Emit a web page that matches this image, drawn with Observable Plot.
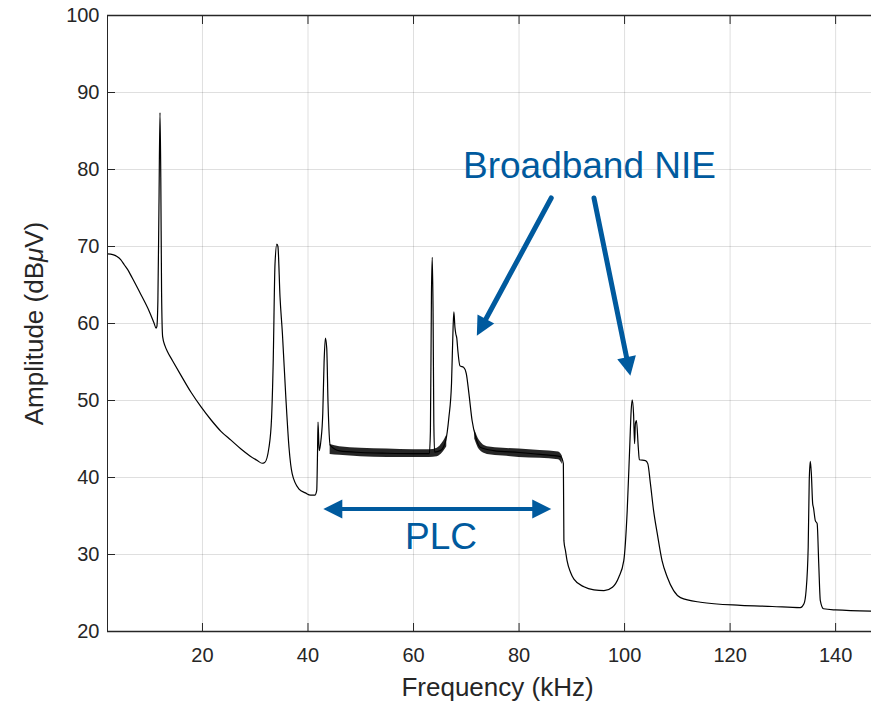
<!DOCTYPE html>
<html><head><meta charset="utf-8">
<script src="https://cdn.jsdelivr.net/npm/d3@7"></script>
<script src="https://cdn.jsdelivr.net/npm/@observablehq/plot@0.6"></script>
<style>body{margin:0;background:#fff;} #chart svg{display:block;}</style>
</head><body><div id="chart"></div>
<script>
// ---- data ----
const freq = [2.0,3.0,3.8,4.5,5.2,6.0,6.7,8.3,9.9,10.8,11.2,11.35,11.55,11.75,11.95,12.1,12.25,12.45,12.9,13.4,14.3,15.9,17.8,19.7,21.6,23.5,25.4,27.3,29.0,30.4,31.3,31.8,32.6,33.1,33.4,33.75,34.1,34.3,34.7,35.15,35.8,36.4,37.0,38.3,39.5,40.5,41.3,41.65,41.8,41.9,42.05,42.15,42.45,42.8,43.05,43.3,43.55,43.8,44.2,46,50,55,60,63.0,63.2,63.4,63.55,63.7,63.85,64.0,65.1,66.1,66.7,67.2,67.5,67.65,67.85,68.0,68.2,68.4,68.8,69.5,70.0,70.5,71.1,71.8,72.7,75.2,80,84,87.9,88.4,88.5,88.8,89.1,89.75,90.4,92.3,94.2,96.1,97.7,98.9,99.85,100.5,101.0,101.25,101.45,101.7,101.9,102.05,102.25,102.6,102.8,103.95,104.4,104.9,105.5,106.2,107.1,108.1,109.3,110.6,114.4,122.0,128,133.3,134.0,134.4,134.8,135.0,135.2,135.4,135.65,135.8,136.15,136.5,136.8,137.1,137.7,140,146.8];
const amp = [69.05,68.95,68.7,68.3,67.6,66.8,65.9,63.8,61.6,60.1,59.4,59.6,63,75,87.4,79,64,58.3,57.1,56.3,55.2,53.3,51.1,49.2,47.5,46.0,44.85,43.7,42.8,42.2,41.85,41.95,43.9,47.8,54.8,67.75,70.3,70.0,63.4,58.7,50.4,43.9,40.5,38.5,38.0,37.7,37.7,38.3,43,47.2,44.5,43.5,44.8,48.3,55,58.1,56.8,49.6,44.2,43.45,43.25,43.15,43.1,43.1,46,64,68.6,62,47,43.3,43.5,44.8,47.8,52.2,59.5,61.5,59.5,58.7,58.1,56.5,54.5,54.3,53.5,50.9,47.4,45.2,43.9,43.5,43.25,43.0,42.7,41.8,31.8,30.5,29.2,27.7,26.8,25.8,25.4,25.3,25.75,27.05,29.2,35.7,44.4,48.7,50.1,48.3,44.4,47.0,47.4,43.9,42.3,42.2,41.8,39.2,35.7,32.7,29.2,27.05,25.3,24.4,23.8,23.4,23.25,23.1,23.6,25.3,30.9,39.6,42.1,40.5,36.6,36.1,34.4,34.0,28.8,24.0,22.95,22.8,22.65];

// PLC ripple envelope (min / max of the oscillating band)
const bandAFreq = [44.2,46,50,55,60,63,64.5,65.5,66.3];
const bandALo   = [43.0,42.9,42.7,42.6,42.6,42.6,42.7,43.2,44.0];
const bandAHi   = [44.3,44.0,43.8,43.7,43.6,43.6,43.8,44.5,45.5];
const bandBFreq = [71.6,72.5,74,77,80,84,87.5,88.2];
const bandBLo   = [45.0,43.6,43.0,42.8,42.6,42.5,42.3,41.7];
const bandBHi   = [46.2,44.8,44.0,43.8,43.7,43.5,43.3,42.8];

const xTicks = [20,40,60,80,100,120,140];
const yTicks = [20,30,40,50,60,70,80,90,100];
const xDomain = [2.0, 146.8];
const yDomain = [20, 100];

// annotations
const nieLabel = "Broadband NIE";
const nieLabelPos = [93.35, 80.4];
const nieArrows = [ {x1: 86.1, y1: 76.3, x2: 72.0, y2: 58.4},
                    {x1: 94.2, y1: 76.3, x2: 101.1, y2: 53.2} ];
const plcLabel = "PLC";
const plcLabelPos = [65.2, 32.3];
const plcArrow = {x1: 42.9, x2: 86.1, y: 35.9};

const xLabel = "Frequency (kHz)";
const yLabel = "Amplitude (dBμV)";

// ---- layout ----
const W = 871, H = 705, mL = 107, mR = 0, mT = 15, mB = 74;
const blue = "#005a9e", ink = "#262626";

const data = freq.map((f, i) => ({f, a: amp[i]}));
const bandA = bandAFreq.map((f, i) => ({f, lo: bandALo[i], hi: bandAHi[i]}));
const bandB = bandBFreq.map((f, i) => ({f, lo: bandBLo[i], hi: bandBHi[i]}));

const sx = Plot.scale({x: {domain: xDomain, range: [mL, W - mR]}});
const sy = Plot.scale({y: {domain: yDomain, range: [H - mB, mT]}});
const angle = (x1, y1, x2, y2) => {
  const dx = sx.apply(x2) - sx.apply(x1), dy = sy.apply(y2) - sy.apply(y1);
  return Math.atan2(dx, -dy) * 180 / Math.PI;
};
const heads = [
  ...nieArrows.map(d => ({x: d.x2, y: d.y2, rot: angle(d.x1, d.y1, d.x2, d.y2)})),
  {x: plcArrow.x1, y: plcArrow.y, rot: -90},
  {x: plcArrow.x2, y: plcArrow.y, rot: 90}
];
const headSym = {draw(ctx) { ctx.moveTo(0, 0); ctx.lineTo(-9.5, 19); ctx.lineTo(9.5, 19); ctx.closePath(); }};

const chart = Plot.plot({
  width: W, height: H,
  marginLeft: mL, marginRight: mR, marginTop: mT, marginBottom: mB,
  x: {domain: xDomain},
  y: {domain: yDomain},
  style: {fontFamily: "'Liberation Sans', Arial, sans-serif", fontSize: "20px", color: ink, background: "#fff"},
  marks: [
    Plot.gridX(xTicks, {stroke: ink, strokeOpacity: 0.15, strokeWidth: 1}),
    Plot.gridY(yTicks, {stroke: ink, strokeOpacity: 0.15, strokeWidth: 1}),
    Plot.areaY(bandA, {x: "f", y1: "lo", y2: "hi", fill: "#000", fillOpacity: 0.85, curve: "monotone-x"}),
    Plot.areaY(bandB, {x: "f", y1: "lo", y2: "hi", fill: "#000", fillOpacity: 0.85, curve: "monotone-x"}),
    Plot.line(data, {x: "f", y: "a", stroke: "#000", strokeWidth: 1.2, curve: "monotone-x"}),
    // box lines
    Plot.ruleY([yDomain[0], yDomain[1]], {stroke: ink, strokeWidth: 1.3}),
    Plot.ruleX([xDomain[0]], {stroke: ink, strokeWidth: 1}),
    // inward ticks
    Plot.axisX(xTicks, {anchor: "bottom", tickSize: 8, dy: -8, tickFormat: () => "", label: null, stroke: ink}),
    Plot.axisX(xTicks, {anchor: "top", tickSize: 8, dy: 8, tickFormat: () => "", label: null, stroke: ink}),
    Plot.axisY(yTicks, {anchor: "left", tickSize: 8, dx: 8, tickFormat: () => "", label: null, stroke: ink}),
    // tick labels
    Plot.axisX(xTicks, {anchor: "bottom", tickSize: 0, tickPadding: 16, label: null, fill: ink}),
    Plot.axisY(yTicks, {anchor: "left", tickSize: 0, tickPadding: 8, label: null, fill: ink}),
    // axis titles
    Plot.text([xLabel], {frameAnchor: "bottom", textAnchor: "middle", dy: 64, dx: 8, fontSize: 26, fill: ink}),
    Plot.text([yLabel], {frameAnchor: "left", textAnchor: "middle", rotate: -90, dx: -73, fontSize: 26, fill: ink}),
    // annotations
    Plot.arrow(nieArrows, {x1: "x1", y1: "y1", x2: "x2", y2: "y2", stroke: blue, strokeWidth: 5, headLength: 0, insetEnd: 14}),
    Plot.arrow([plcArrow], {x1: "x1", x2: "x2", y1: "y", y2: "y", stroke: blue, strokeWidth: 4, headLength: 0, insetStart: 14, insetEnd: 14}),
    Plot.dot(heads, {x: "x", y: "y", rotate: "rot", symbol: headSym, fill: blue, stroke: "none", r: 5}),
    Plot.text([nieLabel], {x: nieLabelPos[0], y: nieLabelPos[1], fontSize: 37, fill: blue}),
    Plot.text([plcLabel], {x: plcLabelPos[0], y: plcLabelPos[1], fontSize: 37, fill: blue})
  ]
});
document.getElementById("chart").appendChild(chart);
// italic mu as in the TeX-rendered label
d3.select(chart).selectAll("text").filter(function() { return this.textContent === yLabel; })
  .each(function() {
    const t = d3.select(this); t.text("");
    t.append("tspan").text("Amplitude (dB");
    t.append("tspan").attr("font-style", "italic").text("μ");
    t.append("tspan").text("V)");
  });
</script>
</body></html>
